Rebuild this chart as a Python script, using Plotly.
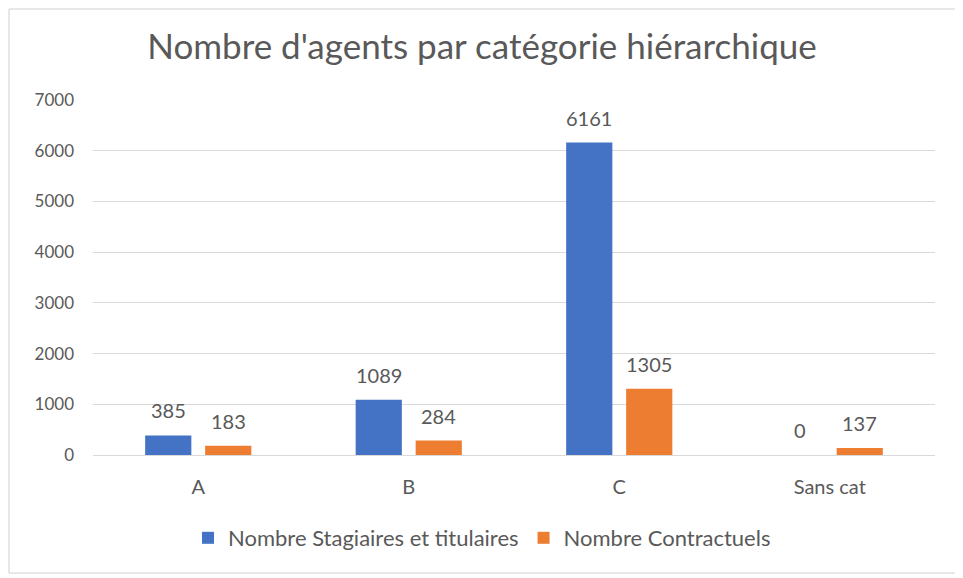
import plotly.graph_objects as go

categories = ["A", "B", "C", "Sans cat"]
stagiaires = [385, 1089, 6161, 0]
contractuels = [183, 284, 1305, 137]
series_names = ["Nombre Stagiaires et titulaires", "Nombre Contractuels"]
series_colors = ["#4472C4", "#ED7D31"]
title_text = "Nombre d'agents par catégorie hiérarchique"
y_ticks = [0, 1000, 2000, 3000, 4000, 5000, 6000, 7000]

# page body has an 8px margin -> offsets account for it
W, H = 963, 578
ML, MR, MT, MB = 85, 36, 92, 131
FONT = "Lato, Open Sans, sans-serif"
GRAY = "#595959"
BARGAP, GROUPGAP = 0.43, 0.23

pw = W - ML - MR
ph = H - MT - MB
cat_px = pw / len(categories)
slot_px = (1 - BARGAP) * cat_px / 2

fig = go.Figure()
all_series = [stagiaires, contractuels]
for i, (vals, name, col) in enumerate(zip(all_series, series_names, series_colors)):
    fig.add_trace(go.Bar(x=categories, y=vals, name=name, marker_color=col,
                         marker_line_width=0))
    shift = (i - 0.5) * slot_px
    for c, v in zip(categories, vals):
        fig.add_annotation(x=c, y=v, text=str(v), showarrow=False,
                           xshift=shift, yshift=11, yanchor="bottom",
                           font=dict(size=20, color=GRAY, family=FONT))

fig.update_layout(
    width=W, height=H,
    margin=dict(l=ML, r=MR, t=MT, b=MB, pad=0, autoexpand=False),
    paper_bgcolor="white", plot_bgcolor="white",
    font=dict(family=FONT, color=GRAY, size=16),
    title=dict(text=title_text, x=(482 - 8) / W, xanchor="center",
               xref="container", y=1 - 39 / H, yanchor="middle",
               font=dict(size=35, color=GRAY, family=FONT)),
    barmode="group", bargap=BARGAP, bargroupgap=GROUPGAP,
    showlegend=True,
    legend=dict(orientation="h", x=0.462, xanchor="center",
                y=-(538 - 455) / ph, yanchor="middle",
                font=dict(size=22, color=GRAY, family=FONT),
                itemwidth=30, traceorder="normal"),
    xaxis=dict(showline=True, linecolor="#D9D9D9", linewidth=1, ticks="",
               tickfont=dict(size=20, color=GRAY), ticklabelstandoff=14,
               showgrid=False, fixedrange=True),
    yaxis=dict(range=[0, 7000], tickvals=y_ticks, showgrid=True,
               gridcolor="#D9D9D9", gridwidth=1, zeroline=False,
               showline=False, ticks="", tickfont=dict(size=17, color=GRAY),
               ticklabelstandoff=18, fixedrange=True),
    shapes=[dict(type="rect", xref="paper", yref="paper",
                 x0=-(ML - 1) / pw, x1=1 + (950 - (ML + pw)) / pw,
                 y0=-(565 - (MT + ph)) / ph, y1=1 + (MT - 1) / ph,
                 line=dict(color="#D0D0D0", width=1), layer="below")],
)

fig.write_html("out.html")
